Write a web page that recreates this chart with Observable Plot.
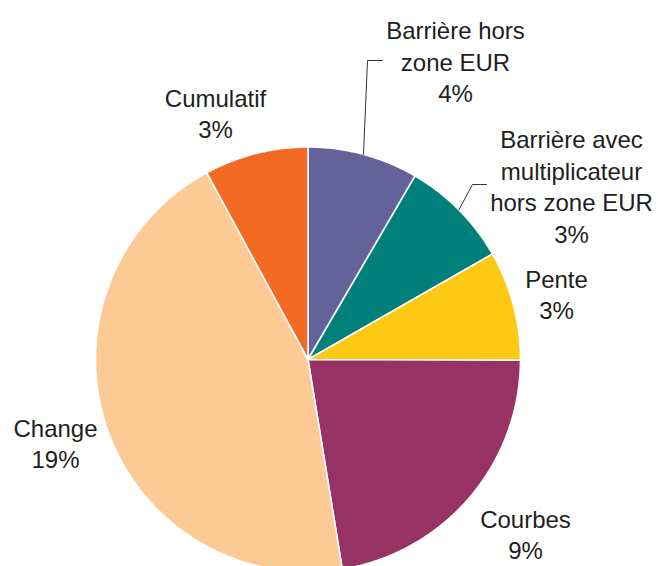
<!DOCTYPE html>
<html>
<head>
<meta charset="utf-8">
<script src="https://cdn.jsdelivr.net/npm/d3@7"></script>
<script src="https://cdn.jsdelivr.net/npm/@observablehq/plot@0.6"></script>
<style>
  html, body { margin: 0; padding: 0; background: #fff; }
  #chart { width: 658px; height: 566px; overflow: hidden; }
</style>
</head>
<body>
<div id="chart"></div>
<script>
// Slice order: clockwise from 12 o'clock
const categories = ["Barrière hors zone EUR", "Barrière avec multiplicateur hors zone EUR", "Pente", "Courbes", "Change", "Cumulatif"];
// Relative slice sizes (angular share)
const shares = [30.3, 30.0, 30.0, 80.6, 161.0, 28.5];
// Percent labels as printed
const percentLabels = ["4%", "3%", "3%", "9%", "19%", "3%"];
// Label text lines
const labelLines = [
  ["Barrière hors", "zone EUR"],
  ["Barrière avec", "multiplicateur", "hors zone EUR"],
  ["Pente"],
  ["Courbes"],
  ["Change"],
  ["Cumulatif"]
];
const colors = ["#63639a", "#007f7b", "#fec914", "#993264", "#fdca96", "#f26a24"];

// ---- layout (unit-circle coordinates; radius = 1) ----
const W = 658, H = 566, CX = 307.5, CY = 359, R = 212.5;
const labelPos = [
  [455, 60], [571, 185], [556, 293], [525, 533], [55, 442], [215, 112]
].map(([px, py]) => [(px - CX) / R, (py - CY) / R]);
// leader lines: elbow and end points (pixel layout), start is computed on the arc
const leaders = {
  0: [[367, 60], [382, 60]],
  1: [[472, 184], [486, 184]]
};

const pie = d3.pie().sort(null).value(d => d)(shares);
const slices = [];
pie.forEach((a, i) => {
  const name = categories[i];
  slices.push({name, x: 0, y: 0});
  const n = Math.max(2, Math.ceil((a.endAngle - a.startAngle) / 0.01));
  for (let k = 0; k <= n; k++) {
    const t = a.startAngle + (a.endAngle - a.startAngle) * k / n;
    slices.push({name, x: Math.sin(t), y: -Math.cos(t)});
  }
  slices.push({name, x: 0, y: 0});
});

const labels = categories.map((c, i) => ({
  name: c,
  text: [...labelLines[i], percentLabels[i]].join("\n"),
  x: labelPos[i][0],
  y: labelPos[i][1]
}));

const leaderPts = [];
Object.entries(leaders).forEach(([i, pts]) => {
  const a = pie[+i];
  const mid = (a.startAngle + a.endAngle) / 2;
  leaderPts.push({id: i, x: Math.sin(mid), y: -Math.cos(mid)});
  pts.forEach(([px, py]) => leaderPts.push({id: i, x: (px - CX) / R, y: (py - CY) / R}));
});

const chart = Plot.plot({
  width: W,
  height: H,
  margin: 0,
  x: {domain: [-CX / R, (W - CX) / R], range: [0, W], axis: null},
  y: {domain: [-CY / R, (H - CY) / R], range: [0, H], axis: null},
  color: {domain: categories, range: colors},
  style: {fontFamily: "'Liberation Sans', Arial, sans-serif", background: "white"},
  marks: [
    Plot.line(slices, {x: "x", y: "y", z: "name", fill: "name", stroke: "white", strokeWidth: 1.6, strokeLinejoin: "round"}),
    Plot.line(leaderPts, {x: "x", y: "y", z: "id", stroke: "#333", strokeWidth: 1}),
    Plot.text(labels, {x: "x", y: "y", text: "text", fontSize: 24, lineHeight: 1.32, fill: "#1e1e1e", textAnchor: "middle"})
  ]
});
document.getElementById("chart").appendChild(chart);
</script>
</body>
</html>
